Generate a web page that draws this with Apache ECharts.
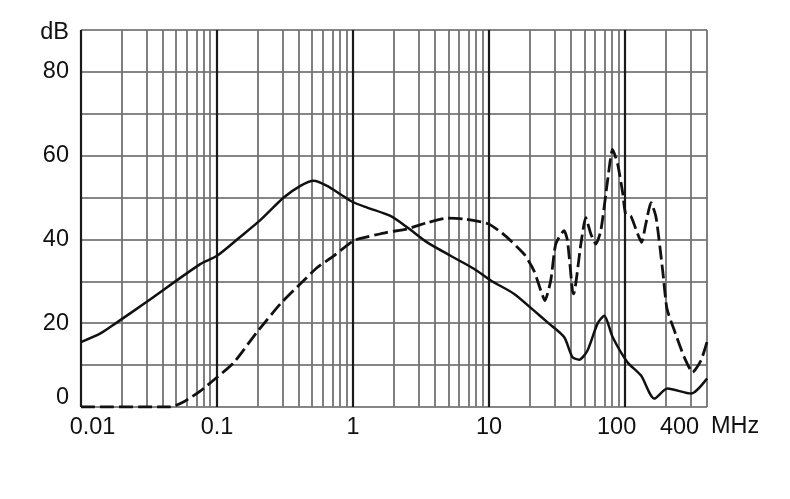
<!DOCTYPE html>
<html><head><meta charset="utf-8">
<script src="https://cdn.jsdelivr.net/npm/echarts@6/dist/echarts.min.js"></script>
<style>html,body{margin:0;padding:0;background:#fff}#c{width:790px;height:499px}</style>
</head><body><div id="c"></div>
<script>
// Frequencies in MHz, levels in dB
const solidFreq = [0.01, 0.0138, 0.0184, 0.0301, 0.0752, 0.1, 0.148, 0.208, 0.309, 0.41, 0.514, 0.644, 0.807, 0.985, 1.27, 1.88, 2.5, 3.51, 5.21, 7.74, 10.3, 15.3, 21.4, 26.9, 35.6, 41.0, 45.9, 52.9, 62.7, 70.2, 80.9, 104, 131, 164, 205, 305, 400];
const solidDb   = [15.5, 17.5, 20.2, 25.0, 34.1, 36.1, 40.6, 44.6, 50.0, 52.8, 54.0, 52.8, 50.8, 49.0, 47.6, 45.6, 42.9, 39.3, 36.1, 33.0, 30.2, 27.0, 23.0, 20.2, 16.7, 11.9, 11.3, 13.5, 19.9, 21.8, 16.7, 10.7, 7.5, 2.0, 4.4, 3.2, 6.8];

const dashedFreq = [0.01, 0.0452, 0.0566, 0.0752, 0.1, 0.132, 0.197, 0.292, 0.41, 0.545, 0.722, 1.01, 1.27, 1.78, 2.5, 3.51, 4.93, 6.53, 9.72, 12.5, 18.1, 21.4, 24.0, 25.7, 28.4, 30.9, 35.6, 37.7, 41.0, 41.8, 47.3, 51.4, 56.0, 60.9, 66.3, 74.3, 80.9, 88.1, 95.9, 101, 110, 120, 132, 142, 155, 169, 189, 203, 230, 272, 314, 361, 400];
const dashedDb   = [0, 0, 1.2, 3.8, 7.1, 10.5, 17.9, 24.6, 29.4, 33.3, 36.1, 39.7, 40.6, 41.7, 42.5, 44.0, 45.1, 44.9, 43.8, 41.5, 36.5, 32.5, 27.8, 25.4, 30.2, 38.9, 42.1, 39.7, 27.8, 27.0, 38.9, 45.2, 41.3, 38.9, 42.1, 54.0, 61.5, 58.0, 51.2, 46.0, 45.6, 42.5, 39.3, 43.7, 48.8, 45.2, 32.5, 23.5, 18.3, 11.9, 8.3, 11.1, 15.5];

const xTickValues = [0.01, 0.1, 1, 10, 100, 400];
const xTickLabels = ['0.01', '0.1', '1', '10', '100', '400'];
const yTickValues = [0, 20, 40, 60, 80, 90];
const yTickLabels = ['0', '20', '40', '60', '80', 'dB'];
const decadeLines = [0.01, 0.1, 1, 10, 100];
const minorMultipliers = [2, 3, 4, 5, 6, 7, 8, 9];
const xMin = 0.01, xMax = 400, yMin = 0, yMax = 90;

const L = Math.log10;
const pair = (f, v) => f.map((x, i) => [L(x), v[i]]);
const minorLines = [];
decadeLines.forEach(d => minorMultipliers.forEach(m => {
  const f = d * m; if (f <= xMax * 1.0001) minorLines.push(f);
}));

const FONT = '"Liberation Sans", Arial, sans-serif';
const FS = 23.5;
const labelKey = { '0.01': 'l', '100': 'm', '400': 'r' };

const chart = echarts.init(document.getElementById('c'));
chart.setOption({
  animation: false,
  backgroundColor: '#fff',
  grid: { left: 81, right: 83, top: 30, bottom: 92 },
  xAxis: {
    type: 'value', min: L(xMin), max: L(xMax),
    axisLine: { show: false }, axisTick: { show: false }, splitLine: { show: false },
    name: 'MHz', nameLocation: 'end', nameGap: 4,
    nameTextStyle: { fontFamily: FONT, fontSize: FS, color: '#111', verticalAlign: 'top', padding: [8, 0, 0, 0] },
    axisLabel: {
      customValues: xTickValues.map(L),
      showMinLabel: true, showMaxLabel: true,
      margin: 9, fontFamily: FONT, fontSize: FS, color: '#111',
      formatter: v => {
        const f = Math.pow(10, v);
        const i = xTickValues.findIndex(t => Math.abs(t - f) / t < 1e-3);
        if (i < 0) return '';
        const s = xTickLabels[i];
        return '{' + (labelKey[s] || 'n') + '|' + s + '}';
      },
      rich: {
        n: { fontFamily: FONT, fontSize: FS, color: '#111' },
        l: { fontFamily: FONT, fontSize: FS, color: '#111', padding: [0, 0, 0, 23] },
        m: { fontFamily: FONT, fontSize: FS, color: '#111', padding: [0, 17, 0, 0] },
        r: { fontFamily: FONT, fontSize: FS, color: '#111', padding: [0, 55, 0, 0] }
      }
    }
  },
  yAxis: {
    type: 'value', min: yMin, max: yMax, interval: 10,
    axisLine: { show: false }, axisTick: { show: false },
    splitLine: { show: true, lineStyle: { color: '#5e5e5e', width: 1.7 } },
    axisLabel: {
      margin: 12, fontFamily: FONT, fontSize: FS, color: '#111',
      formatter: v => {
        const i = yTickValues.indexOf(v);
        if (i < 0) return '';
        return i === 0 ? '{z|' + yTickLabels[i] + '}' : (i === 5 ? '{d|' + yTickLabels[i] + '}' : yTickLabels[i]);
      },
      rich: {
        z: { fontFamily: FONT, fontSize: FS, color: '#111', padding: [0, 0, 18, 0] },
        d: { fontFamily: FONT, fontSize: FS, color: '#111', padding: [6, 0, 0, 0] }
      }
    }
  },
  series: [
    {
      type: 'line', data: [], z: 1, silent: true,
      markLine: {
        silent: true, symbol: 'none', animation: false, label: { show: false },
        data: [
          ...minorLines.map(f => ({ xAxis: L(f), lineStyle: { color: '#727272', width: 1.8, type: 'solid' } })),
          ...decadeLines.map(f => ({ xAxis: L(f), lineStyle: { color: '#1a1a1a', width: 2.2, type: 'solid' } }))
        ]
      }
    },
    {
      type: 'line', data: pair(solidFreq, solidDb), z: 5,
      showSymbol: false, smooth: 0.25,
      lineStyle: { color: '#111', width: 2.5 }
    },
    {
      type: 'line', data: pair(dashedFreq, dashedDb), z: 5,
      showSymbol: false, smooth: 0.2,
      lineStyle: { color: '#111', width: 2.8, type: [14, 5] }
    }
  ]
});
</script></body></html>
